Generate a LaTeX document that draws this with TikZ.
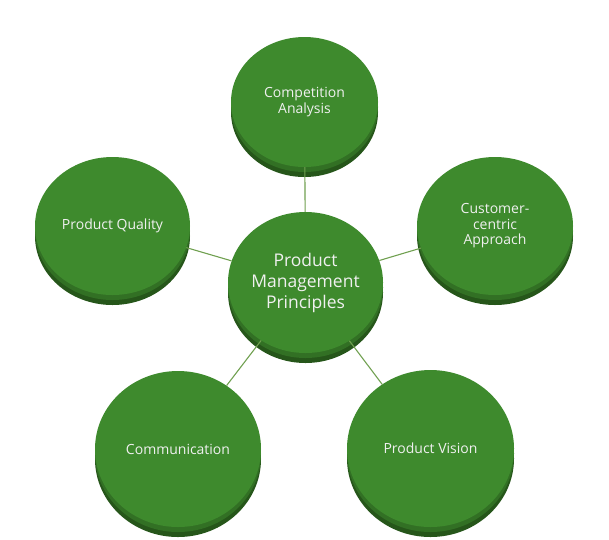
\documentclass[tikz,border=0pt]{standalone}
\usepackage{fontspec}
\setmainfont{Open Sans}
\usetikzlibrary{shapes.geometric}
\definecolor{face}{RGB}{62,138,45}
\definecolor{rimmid}{RGB}{50,112,36}
\definecolor{rimdark}{RGB}{38,86,26}
\definecolor{linkc}{RGB}{112,160,80}
\begin{document}
\begin{tikzpicture}[x=1pt,y=-1pt,
  disc/.style={ellipse, inner sep=0pt, fill=face, text=white!94!black, align=center,
    font=\fontsize{14}{15.5}\selectfont,
    preaction={fill=rimdark, transform canvas={yshift=-10pt}},
    preaction={fill=rimmid, transform canvas={yshift=-5pt}}},
  bigtext/.style={font=\fontsize{17.5}{21}\selectfont},
  link/.style={draw=linkc, line width=1.1pt}]
\useasboundingbox (0,0) rectangle (609,539);
\node[disc, minimum width=147pt, minimum height=130pt] (comp) at (304.5,102) {Competition\\Analysis};
\node[disc, minimum width=155pt, minimum height=138pt] (qual) at (112.5,226) {Product Quality};
\node[disc, minimum width=156pt, minimum height=138pt] (cust) at (495,226) {Customer-\\centric\\Approach};
\node[disc, minimum width=166pt, minimum height=156pt] (comm) at (178,449) {Communication};
\node[disc, minimum width=167pt, minimum height=157pt] (vis) at (430.5,448.5) {Product Vision};
\node[disc, bigtext, minimum width=155pt, minimum height=141pt] (pmp) at (305.5,282.5) {Product\\Management\\Principles};
\draw[link] (pmp) -- (comp);
\draw[link] (pmp) -- (qual);
\draw[link] (pmp) -- (cust);
\draw[link] (pmp) -- (comm);
\draw[link] (pmp) -- (vis);
\end{tikzpicture}
\end{document}
